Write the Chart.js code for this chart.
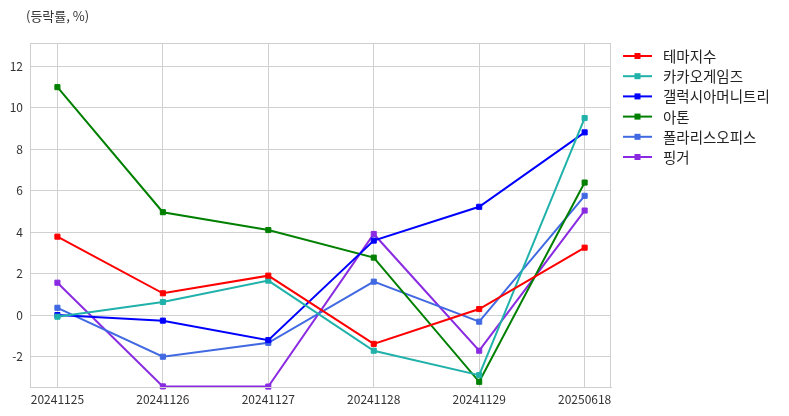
<!DOCTYPE html>
<html><head><meta charset="utf-8">
<script src="https://cdn.jsdelivr.net/npm/chart.js@4/dist/chart.umd.min.js"></script>
<style>html,body{margin:0;padding:0;background:#fff}#wrap{width:789px;height:416px;position:relative}</style>
</head><body><div id="wrap"><canvas id="c" width="789" height="416"></canvas></div>
<script>
const categories = ['20241125','20241126','20241127','20241128','20241129','20250618'];
const seriesNames = ['테마지수','카카오게임즈','갤럭시아머니트리','아톤','폴라리스오피스','핑거'];
const themeIndex   = [3.78, 1.05, 1.9, -1.39, 0.29, 3.25];
const kakaoGames   = [-0.08, 0.63, 1.66, -1.72, -2.9, 9.5];
const galaxia      = [0.0, -0.27, -1.21, 3.59, 5.22, 8.81];
const aton         = [10.99, 4.96, 4.1, 2.77, -3.22, 6.39];
const polaris      = [0.35, -2.01, -1.34, 1.61, -0.32, 5.75];
const finger       = [1.56, -3.44, -3.45, 3.91, -1.72, 5.04];
const yTicks = [-2, 0, 2, 4, 6, 8, 10, 12];
const colors = ['#ff0000','#20b2aa','#0000ff','#008000','#4169e1','#8a2be2'];
const seriesValues = [themeIndex, kakaoGames, galaxia, aton, polaris, finger];

const FONT = '"Noto Sans CJK KR", "Noto Sans", sans-serif';

const datasets = seriesValues.map((vals, i) => ({
  label: seriesNames[i],
  data: vals.map((v, j) => ({x: j, y: v})),
  borderColor: colors[i],
  backgroundColor: colors[i],
  pointBackgroundColor: colors[i],
  pointBorderColor: colors[i],
  borderWidth: 2,
  pointStyle: 'rect',
  pointRadius: 3.6,
  pointBorderWidth: 1,
  pointHoverRadius: 3.6,
  tension: 0,
  clip: false
}));

const extras = {
  id: 'extras',
  afterDraw(chart) {
    const ctx = chart.ctx, a = chart.chartArea;
    ctx.save();
    ctx.strokeStyle = '#cfcfcf';
    ctx.lineWidth = 1;
    ctx.strokeRect(Math.round(a.left) + 0.5, Math.round(a.top) + 0.5, Math.round(a.right - a.left) - 1, Math.round(a.bottom - a.top));
    ctx.fillStyle = '#333';
    ctx.font = '13px ' + FONT;
    ctx.textBaseline = 'middle';
    ctx.textAlign = 'left';
    ctx.fillText('(등락률, %)', 26, 16.5);
    const x0 = 623, x1 = 652, tx = 663, y0 = 56, dy = 20.2;
    ctx.font = '14.5px ' + FONT;
    seriesNames.forEach((n, i) => {
      const y = y0 + i * dy;
      ctx.strokeStyle = colors[i];
      ctx.lineWidth = 2;
      ctx.beginPath(); ctx.moveTo(x0, y); ctx.lineTo(x1, y); ctx.stroke();
      ctx.fillStyle = colors[i];
      ctx.fillRect(637.5 - 3, y - 3, 6, 6);
      ctx.fillStyle = '#222';
      ctx.fillText(n, tx, y + 0.5);
    });
    ctx.restore();
  }
};

new Chart(document.getElementById('c'), {
  type: 'line',
  data: { datasets },
  options: {
    responsive: false,
    animation: false,
    events: [],
    layout: { padding: { top: 43, right: 178, left: 0, bottom: 0 } },
    plugins: { legend: { display: false }, tooltip: { enabled: false }, title: { display: false } },
    scales: {
      x: {
        type: 'linear',
        min: -0.26,
        max: 5.25,
        afterBuildTicks: s => { s.ticks = categories.map((_, i) => ({ value: i })); },
        afterFit: s => { s.height = 29; },
        ticks: {
          callback: (v) => categories[v] ?? '',
          color: '#333',
          font: { family: FONT, size: 12 },
          padding: 5,
          maxRotation: 0,
          autoSkip: false
        },
        grid: { color: '#d0d0d0', lineWidth: 1, drawTicks: false },
        border: { color: '#cfcfcf' }
      },
      y: {
        min: -3.47,
        max: 13.12,
        afterBuildTicks: s => { s.ticks = yTicks.map(v => ({ value: v })); },
        afterFit: s => { s.width = 30; },
        ticks: {
          color: '#333',
          font: { family: FONT, size: 12 },
          padding: 7
        },
        grid: { color: '#d0d0d0', lineWidth: 1, drawTicks: false },
        border: { color: '#cfcfcf' }
      }
    }
  },
  plugins: [extras]
});
</script>
</body></html>
